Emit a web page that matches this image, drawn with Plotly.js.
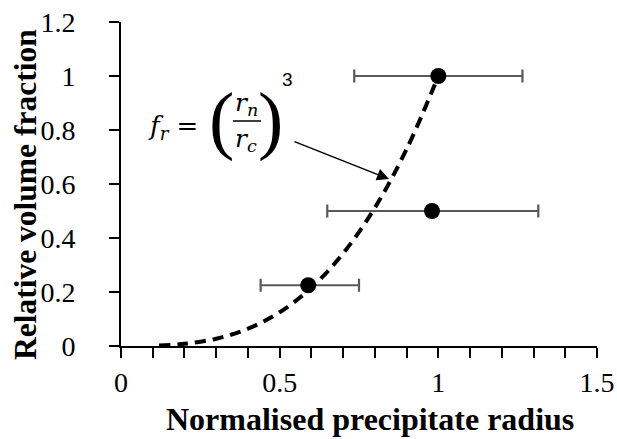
<!DOCTYPE html>
<html>
<head>
<meta charset="utf-8">
<script src="https://cdn.plot.ly/plotly-3.0.1.min.js"></script>
<style>html,body{margin:0;padding:0;background:#fff;}#chart{width:617px;height:439px;}</style>
</head>
<body>
<div id="chart"></div>
<script>
// Measured data points
const radius = [0.59, 0.98, 1.0];
const volumeFraction = [0.225, 0.50, 1.0];
const errMinus = [0.15, 0.33, 0.265];
const errPlus = [0.16, 0.335, 0.265];

// Dashed model curve f_r = (r_n/r_c)^3
const curveX = [0.12, 0.2, 0.3, 0.4, 0.5, 0.6, 0.7, 0.8, 0.9, 1.0];
const curveY = [0.002, 0.008, 0.027, 0.064, 0.125, 0.216, 0.343, 0.512, 0.729, 1.0];

// Axis ticks and titles
const xTicks = [0, 0.5, 1, 1.5];
const xTickText = ['0', '0.5', '1', '1.5'];
const yTicks = [0, 0.2, 0.4, 0.6, 0.8, 1, 1.2];
const yTickText = ['0', '0.2', '0.4', '0.6', '0.8', '1', '1.2'];
const xTitle = 'Normalised precipitate radius';
const yTitle = 'Relative volume fraction';

const serif = 'Liberation Serif, Times New Roman, serif';
const mathFont = 'DejaVu Serif, Liberation Serif, serif';

const traces = [
  {
    x: curveX, y: curveY, type: 'scatter', mode: 'lines',
    line: {color: '#000', width: 4, dash: '11px,7px', shape: 'spline'},
    hoverinfo: 'skip', showlegend: false
  },
  {
    x: radius, y: volumeFraction, type: 'scatter', mode: 'markers',
    marker: {color: '#000', size: 16},
    error_x: {type: 'data', symmetric: false, array: errPlus, arrayminus: errMinus,
              color: '#595959', thickness: 2.2, width: 6.5},
    showlegend: false
  }
];

// pixel helpers for annotation placement (plot area: x 121..597, y 22..346)
const L = 121, R = 597, T = 22, B = 346;
const px = p => (p - L) / (R - L) * 1.5;
const py = p => (B - p) / (B - T) * 1.2;
const ppx = p => (p - L) / (R - L);
const ppy = p => (B - p) / (B - T);

const layout = {
  width: 617, height: 439,
  margin: {l: L, r: 617 - R, t: T, b: 439 - B},
  paper_bgcolor: '#fff', plot_bgcolor: '#fff',
  font: {family: serif, color: '#000'},
  xaxis: {
    range: [0, 1.5], tickvals: xTicks, ticktext: xTickText,
    showgrid: false, zeroline: false, showline: true, linecolor: '#000', linewidth: 2,
    ticks: 'outside', ticklen: 10, tickwidth: 2, tickcolor: '#000',
    minor: {dtick: 0.1, ticks: 'outside', ticklen: 10, tickwidth: 2, tickcolor: '#000', showgrid: false},
    tickfont: {family: serif, size: 28, color: '#000'},
    fixedrange: true
  },
  yaxis: {
    range: [0, 1.2], tickvals: yTicks, ticktext: yTickText,
    showgrid: false, zeroline: false, showline: true, linecolor: '#000', linewidth: 2,
    ticks: 'outside', ticklen: 10, tickwidth: 2, tickcolor: '#000',
    ticklabelstandoff: 28,
    tickfont: {family: serif, size: 28, color: '#000'},
    fixedrange: true
  },
  shapes: [
    {type: 'line', xref: 'x', yref: 'y', x0: px(233), x1: px(261), y0: py(121), y1: py(121),
     line: {color: '#000', width: 1.5}}
  ],
  annotations: [
    {x: ppx(370), y: ppy(438), xref: 'paper', yref: 'paper', xanchor: 'center', yanchor: 'bottom', showarrow: false,
     borderpad: 0, text: '<b>' + xTitle + '</b>', font: {family: serif, size: 32, color: '#000'}},
    {x: ppx(26), y: ppy(195), xref: 'paper', yref: 'paper', xanchor: 'center', yanchor: 'middle', showarrow: false,
     textangle: -90, text: '<b>' + yTitle + '</b>', font: {family: serif, size: 31.5, color: '#000'}},
    {x: px(146), y: py(127), xref: 'x', yref: 'y', xanchor: 'left', yanchor: 'middle', showarrow: false,
     text: '<i>f<sub>r</sub></i> =', font: {family: mathFont, size: 26, color: '#000'}},
    {x: px(221), y: py(119), xref: 'x', yref: 'y', xanchor: 'center', yanchor: 'middle', showarrow: false,
     borderpad: 0, text: '(', font: {family: serif, size: 76, color: '#000'}},
    {x: px(270), y: py(119), xref: 'x', yref: 'y', xanchor: 'center', yanchor: 'middle', showarrow: false,
     borderpad: 0, text: ')', font: {family: serif, size: 76, color: '#000'}},
    {x: px(246), y: py(104), xref: 'x', yref: 'y', xanchor: 'center', yanchor: 'middle', showarrow: false,
     borderpad: 0, text: '<i>r<sub>n</sub></i>', font: {family: mathFont, size: 25, color: '#000'}},
    {x: px(246), y: py(140), xref: 'x', yref: 'y', xanchor: 'center', yanchor: 'middle', showarrow: false,
     borderpad: 0, text: '<i>r<sub>c</sub></i>', font: {family: mathFont, size: 25, color: '#000'}},
    {x: px(287), y: py(79), xref: 'x', yref: 'y', xanchor: 'center', yanchor: 'middle', showarrow: false,
     text: '3', font: {family: 'Liberation Sans, Arial, sans-serif', size: 19, color: '#000'}},
    {x: px(389), y: py(179), xref: 'x', yref: 'y', ax: px(293), ay: py(141), axref: 'x', ayref: 'y',
     text: '', showarrow: true, arrowhead: 2, arrowsize: 1.6, arrowwidth: 1.5, arrowcolor: '#000'}
  ]
};

Plotly.newPlot('chart', traces, layout, {displayModeBar: false, staticPlot: true});
</script>
</body>
</html>
